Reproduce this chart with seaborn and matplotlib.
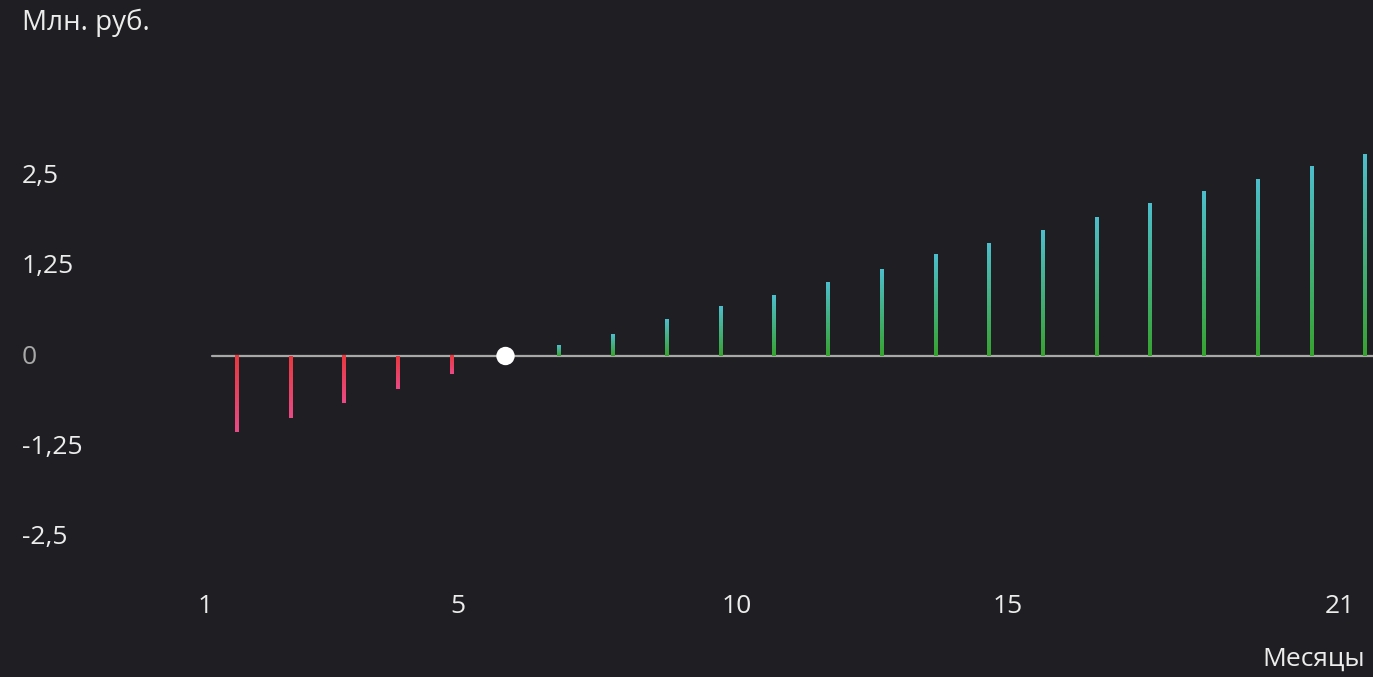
import numpy as np
import pandas as pd
import seaborn as sns
import matplotlib.pyplot as plt
import matplotlib.transforms as mtransforms
from matplotlib.colors import LinearSegmentedColormap

# data
months = list(range(1, 23))
values = [-1.05, -0.85, -0.65, -0.45, -0.25, 0.0,
          0.15, 0.30, 0.51, 0.68, 0.84, 1.02, 1.20, 1.40, 1.56, 1.74,
          1.91, 2.10, 2.27, 2.44, 2.62, 2.79]
y_ticks = [-2.5, -1.25, 0, 1.25, 2.5]
y_tick_labels = ['-2,5', '-1,25', '0', '1,25', '2,5']
x_tick_labels = ['1', '5', '10', '15', '21']
x_tick_pos = [-0.59, 4.12, 9.31, 14.35, 20.53]

df = pd.DataFrame({'month': months, 'value': values})
df['pos'] = np.arange(len(df))

bg = '#1f1f23'
text_col = '#ececec'

sns.set_theme(style='dark', rc={'figure.facecolor': bg, 'axes.facecolor': bg,
                                'axes.grid': False})
plt.rcParams['font.family'] = ['Open Sans', 'DejaVu Sans']

fig = plt.figure(figsize=(13.73, 6.77), dpi=100)
ax = fig.add_axes([190 / 1373, 97 / 677, 1183 / 1373, 480 / 677])

sns.barplot(data=df, x='month', y='value', color='#888888', width=0.074,
            ax=ax, zorder=2, legend=False)

# gradient fill for each bar
neg_cmap = LinearSegmentedColormap.from_list('neg', ['#ea4a86', '#e8383e'])
pos_cmap = LinearSegmentedColormap.from_list('pos', ['#37a32f', '#4dbecc'])
grad = np.linspace(0, 1, 256).reshape(-1, 1)
for p in ax.patches:
    h = p.get_height()
    if h == 0:
        continue
    x0, y0, w = p.get_x(), p.get_y(), p.get_width()
    lo, hi = min(y0, y0 + h), max(y0, y0 + h)
    ax.imshow(grad, extent=(x0, x0 + w, lo, hi), origin='lower',
              cmap=pos_cmap if h > 0 else neg_cmap, aspect='auto', zorder=3)
    p.set_facecolor('none')
    p.set_edgecolor('none')

ax.axhline(0, xmin=22 / 1183, xmax=1, color='#a8a8a8', lw=1.6, zorder=2.5)

# break-even point
sns.scatterplot(data=df[df['value'] == 0], x='pos', y='value', s=175,
                color='white', edgecolor='none', zorder=5, ax=ax, legend=False)

ax.set_xlim(-0.87, 21.14)
ax.set_ylim(-3.094, 3.536)

ax.set_yticks(y_ticks)
ax.set_yticklabels(y_tick_labels)
ax.set_xticks(x_tick_pos)
ax.set_xticklabels(x_tick_labels)
ax.tick_params(axis='y', length=0, pad=121, labelsize=19, labelcolor=text_col)
ax.tick_params(axis='x', length=0, pad=10, labelsize=19, labelcolor=text_col)
shift_up = mtransforms.ScaledTranslation(0, 2 / 100, fig.dpi_scale_trans)
for lab in ax.get_yticklabels():
    lab.set_ha('left')
    lab.set_transform(lab.get_transform() + shift_up)
    if lab.get_text() == '0':
        lab.set_color('#a8a8a8')

ax.set_ylabel('Млн. руб.', rotation=0, ha='left', va='center',
              fontsize=20, color=text_col)
ax.yaxis.set_label_coords(-0.142, 1.16)
ax.set_xlabel('Месяцы', ha='right', va='center', fontsize=19, color=text_col)
ax.xaxis.set_label_coords(0.9932, -0.166)

sns.despine(ax=ax, left=True, bottom=True)

plt.savefig('out.png', dpi=100, facecolor=bg)
